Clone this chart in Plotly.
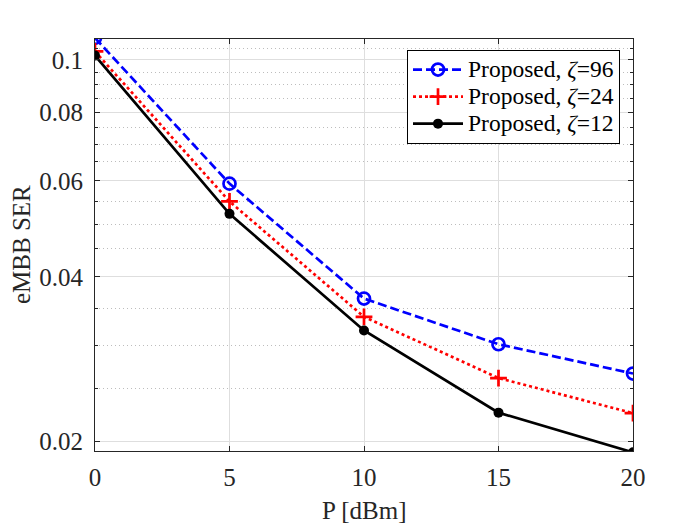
import numpy as np
import plotly.graph_objects as go

# Transmit power [dBm]
power_dbm = [0, 5, 10, 15, 20]

# eMBB symbol error rate per zeta
ser_zeta96 = [0.1097, 0.0593, 0.0365, 0.0301, 0.0266]
ser_zeta24 = [0.1036, 0.0550, 0.0338, 0.0261, 0.0225]
ser_zeta12 = [0.1018, 0.0522, 0.0319, 0.02255, 0.01907]

y_major = [0.02, 0.04, 0.06, 0.08, 0.1]
y_minor = [0.025, 0.03, 0.035, 0.045, 0.05, 0.055, 0.065, 0.07, 0.075,
           0.085, 0.09, 0.095, 0.105]
x_ticks = [0, 5, 10, 15, 20]

font_family = "Liberation Serif, Times New Roman, serif"

# page body adds an 8px margin, so everything is laid out 8px up/left
off = 8
W, H = 700, 526
left, right, top, bottom = 95 - off, 633 - off, 39 - off, 451 - off
plot_w = right - left
plot_h = bottom - top


def leg_name(z):
    return '<span style="font-size:23.5px">Proposed, <i>ζ</i>=%d</span>' % z


fig = go.Figure()

fig.add_trace(go.Scatter(
    x=power_dbm, y=ser_zeta96,
    mode='lines+markers',
    name=leg_name(96),
    line=dict(color='#0000ff', width=2.7, dash='9px,4px'),
    marker=dict(symbol='circle-open', size=12, color='#0000ff', line=dict(width=2.7))
))

fig.add_trace(go.Scatter(
    x=power_dbm, y=ser_zeta24,
    mode='lines+markers',
    name=leg_name(24),
    line=dict(color='#ff0000', width=2.7, dash='3px,3px'),
    marker=dict(symbol='cross-thin', size=12, color='#ff0000', line=dict(width=2.7, color='#ff0000'))
))

fig.add_trace(go.Scatter(
    x=power_dbm, y=ser_zeta12,
    mode='lines+markers',
    name=leg_name(12),
    line=dict(color='#000000', width=2.7),
    marker=dict(symbol='circle', size=10, color='#000000')
))

fig.update_layout(
    width=W,
    height=H,
    margin=dict(l=left, r=W - right, t=top, b=H - bottom),
    paper_bgcolor='white',
    plot_bgcolor='white',
    font=dict(family=font_family, size=25, color='#262626'),
    showlegend=True,
    legend=dict(
        x=(620 - off - left) / plot_w, y=1 - (50 - off - top) / plot_h,
        xanchor='right', yanchor='top',
        bgcolor='white',
        bordercolor='#000000',
        borderwidth=1,
        itemwidth=50,
        font=dict(family=font_family, size=18.5, color='#000000'),
        tracegroupgap=0,
    ),
    xaxis=dict(
        range=[0, 20],
        tickvals=x_ticks,
        ticks='inside',
        ticklen=5,
        tickcolor='#262626',
        ticklabelstandoff=4,
        showline=True,
        linecolor='#262626',
        linewidth=1,
        mirror='ticks',
        showgrid=True,
        gridcolor='#dedede',
        gridwidth=1,
        zeroline=False,
        automargin=False,
    ),
    yaxis=dict(
        type='log',
        range=[np.log10(0.01918), np.log10(0.1092)],
        tickvals=y_major,
        ticktext=[str(v) for v in y_major],
        ticks='inside',
        ticklen=5,
        tickcolor='#262626',
        ticklabelstandoff=6,
        showline=True,
        linecolor='#262626',
        linewidth=1,
        mirror='ticks',
        showgrid=True,
        gridcolor='#dedede',
        gridwidth=1,
        zeroline=False,
        automargin=False,
        minor=dict(
            tickvals=y_minor,
            ticks='inside',
            ticklen=3,
            tickcolor='#262626',
            showgrid=True,
            gridcolor='#bdbdbd',
            griddash='1px,3px',
            gridwidth=1,
        ),
    ),
    annotations=[
        dict(text='P [dBm]', xref='paper', yref='paper',
             x=0.5, y=1 - (510 - off - top) / plot_h,
             xanchor='center', yanchor='middle',
             showarrow=False, font=dict(size=25, color='#262626')),
        dict(text='eMBB SER', xref='paper', yref='paper', textangle=-90,
             x=(21 - off - left) / plot_w, y=1 - (245 - off - top) / plot_h,
             xanchor='center', yanchor='middle',
             showarrow=False, font=dict(size=25, color='#262626')),
    ],
)

fig.write_html("out.html")
